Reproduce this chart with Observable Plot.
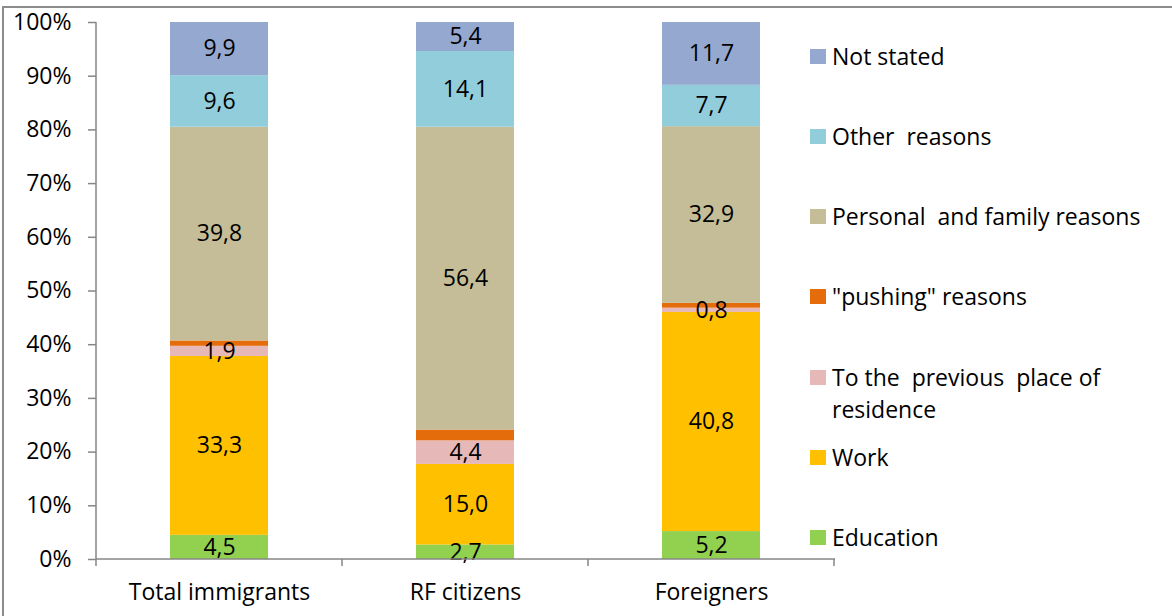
<!DOCTYPE html>
<html>
<head>
<meta charset="utf-8">
<script src="https://cdn.jsdelivr.net/npm/d3@7"></script>
<script src="https://cdn.jsdelivr.net/npm/@observablehq/plot@0.6"></script>
<style>
  body { margin: 0; background: #fff; }
  #wrap { position: relative; width: 1172px; height: 616px; overflow: hidden; font-family: "Open Sans", sans-serif; color: #000; }
  #border { position: absolute; left: 2px; top: 6px; width: 1300px; height: 700px; border: 2px solid #8c8c8c; box-sizing: border-box; }
  #chart { position: absolute; left: 0; top: 0; }
  #chart svg { overflow: visible; }
  #legend { position: absolute; left: 810px; top: 0; }
  .item { position: absolute; left: 0; display: flex; align-items: flex-start; }
  .sw { width: 16px; height: 15px; margin-top: 9px; margin-right: 6px; flex: none; }
  .lab { font-size: 23px; line-height: 32px; white-space: pre-wrap; width: 325px; }
</style>
</head>
<body>
<div id="wrap">
  <div id="border"></div>
  <div id="chart"></div>
  <div id="legend"></div>
</div>
<script>
const categories = ["Total immigrants", "RF citizens", "Foreigners"];
const reasons = ["Education", "Work", "To the  previous  place of residence", "\"pushing\" reasons", "Personal  and family reasons", "Other  reasons", "Not stated"];
const colors = ["#92D050", "#FFC000", "#E6B9B8", "#E46C0A", "#C4BD97", "#92CDDC", "#95A8D0"];
const education = [4.5, 2.7, 5.2];
const work = [33.3, 15.0, 40.8];
const previousPlace = [1.9, 4.4, 0.8];
const pushing = [1.0, 2.0, 0.9];
const personal = [39.8, 56.4, 32.9];
const other = [9.6, 14.1, 7.7];
const notStated = [9.9, 5.4, 11.7];
const labelled = [true, true, true, false, true, true, true];
const yTicks = [0, 0.1, 0.2, 0.3, 0.4, 0.5, 0.6, 0.7, 0.8, 0.9, 1.0];

const series = [education, work, previousPlace, pushing, personal, other, notStated];
const rows = [];
series.forEach((vals, si) => {
  vals.forEach((v, ci) => rows.push({category: categories[ci], reason: reasons[si], value: v, labelled: labelled[si]}));
});
const fmt = v => v.toFixed(1).replace(".", ",");

function axisLines(index, scales, values, dims) {
  const x = scales.x, y = scales.y;
  const g = d3.create("svg:g").attr("stroke", "#868686").attr("stroke-width", 1.5).attr("fill", "none");
  const left = dims.marginLeft, right = dims.width - dims.marginRight;
  const bottom = y(0), top = y(1);
  g.append("line").attr("x1", left).attr("x2", left).attr("y1", top).attr("y2", bottom);
  g.append("line").attr("x1", left).attr("x2", right).attr("y1", bottom).attr("y2", bottom);
  const bw = typeof x.bandwidth === "function" ? x.bandwidth() : x.bandwidth;
  const step = x(categories[1]) - x(categories[0]);
  const bounds = categories.map(c => x(c) + bw / 2 - step / 2);
  bounds.push(x(categories[categories.length - 1]) + bw / 2 + step / 2);
  bounds.forEach(b => g.append("line").attr("x1", b).attr("x2", b).attr("y1", bottom).attr("y2", bottom + 7));
  return g.node();
}

const chart = Plot.plot({
  width: 1172,
  height: 616,
  marginLeft: 96,
  marginRight: 337,
  marginTop: 22,
  marginBottom: 57,
  style: {fontFamily: "'Open Sans', sans-serif", color: "#000", background: "transparent", overflow: "visible"},
  x: {domain: categories, paddingInner: 0.6, paddingOuter: 0.3, label: null},
  y: {domain: [0, 1], label: null},
  color: {domain: reasons, range: colors},
  marks: [
    Plot.barY(rows, Plot.stackY({x: "category", y: "value", fill: "reason", order: reasons, offset: "normalize"})),
    Plot.text(rows, Plot.stackY({x: "category", y: "value", z: "reason", order: reasons, offset: "normalize",
      text: d => d.labelled ? fmt(d.value) : "", fontSize: 23, fill: "#000"})),
    Plot.axisY({ticks: yTicks, tickFormat: d => Math.round(d * 100) + "%", tickSize: 8, tickPadding: 17, fontSize: 23, stroke: "#868686", strokeWidth: 1.5, label: null}),
    Plot.axisX({tickSize: 0, tickPadding: 24, fontSize: 23, label: null}),
    axisLines
  ]
});
document.getElementById("chart").appendChild(chart);

const legend = document.getElementById("legend");
const legendOrder = reasons.map((r, i) => ({r, c: colors[i]})).reverse();
legendOrder.forEach((d, i) => {
  const item = document.createElement("div");
  item.className = "item";
  item.style.top = (55.5 + i * 80.3 - 16) + "px";
  const sw = document.createElement("div");
  sw.className = "sw";
  sw.style.background = d.c;
  const lab = document.createElement("div");
  lab.className = "lab";
  lab.textContent = d.r;
  item.appendChild(sw);
  item.appendChild(lab);
  legend.appendChild(item);
});
</script>
</body>
</html>
